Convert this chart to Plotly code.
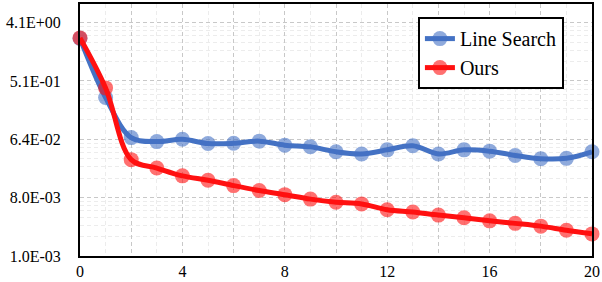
import plotly.graph_objects as go

iterations = list(range(21))
line_search = [2.34, 0.284, 0.068, 0.059, 0.064, 0.055, 0.0555, 0.060, 0.052, 0.049,
               0.041, 0.038, 0.044, 0.051, 0.038, 0.044, 0.042, 0.036, 0.032, 0.0325, 0.041]
ours = [2.38, 0.40, 0.031, 0.023, 0.0174, 0.0149, 0.0123, 0.0103, 0.0089, 0.0076,
        0.0068, 0.0064, 0.0052, 0.0048, 0.0043, 0.0039, 0.0035, 0.0032, 0.0029, 0.0025, 0.0022]

y_tick_vals = [0.001, 0.008, 0.064, 0.512, 4.096]
y_tick_text = ["1.0E-03", "8.0E-03", "6.4E-02", "5.1E-01", "4.1E+00"]
x_tick_vals = list(range(0, 21, 2))
x_tick_text = ["0", "", "4", "", "8", "", "12", "", "16", "", "20"]
y_minor_vals = [m * k for m in y_tick_vals for k in range(2, 8)]

FONT = "Liberation Serif, Times New Roman, serif"

fig = go.Figure()
fig.add_trace(go.Scatter(
    x=iterations, y=line_search, name="Line Search", mode="lines+markers",
    line=dict(color="#4472C4", width=5, shape="spline", smoothing=1),
    marker=dict(color="#4472C4", size=15, opacity=0.6, line=dict(width=0)),
    cliponaxis=False,
))
fig.add_trace(go.Scatter(
    x=iterations, y=ours, name="Ours", mode="lines+markers",
    line=dict(color="#FF1010", width=5, shape="spline", smoothing=1),
    marker=dict(color="#FF1010", size=15, opacity=0.6, line=dict(width=0)),
    cliponaxis=False,
))

fig.update_layout(
    width=602, height=282,
    margin=dict(l=80, r=10, t=2, b=23),
    paper_bgcolor="white", plot_bgcolor="white",
    font=dict(family=FONT, size=16, color="black"),
    showlegend=True,
    legend=dict(
        x=0.66, y=0.948, xanchor="left", yanchor="top",
        bgcolor="white", bordercolor="black", borderwidth=2,
        font=dict(family=FONT, size=20, color="black"),
        itemwidth=30, tracegroupgap=0,
    ),
)
fig.update_xaxes(
    range=[0, 20], tickmode="array", tickvals=x_tick_vals, ticktext=x_tick_text,
    showgrid=True, gridcolor="#C8C8C8", griddash="4px,3px", gridwidth=1,
    minor=dict(tickmode="linear", tick0=0, dtick=1, showgrid=True,
               gridcolor="#ECECEC", gridwidth=1),
    showline=True, linecolor="black", linewidth=2, mirror=True,
    ticks="", ticklabelstandoff=0, zeroline=False,
    tickfont=dict(family=FONT, size=16, color="black"),
)
fig.update_yaxes(
    type="log", range=[-3, 0.901], tickmode="array",
    tickvals=y_tick_vals, ticktext=y_tick_text,
    showgrid=True, gridcolor="#C8C8C8", griddash="4px,3px", gridwidth=1,
    minor=dict(tickmode="array", tickvals=y_minor_vals, showgrid=True,
               gridcolor="#ECECEC", gridwidth=1),
    showline=True, linecolor="black", linewidth=2, mirror=True,
    ticks="", ticklabelstandoff=14, zeroline=False,
    tickfont=dict(family=FONT, size=16, color="black"),
)

fig.write_html(
    "out.html",
    config={"displayModeBar": False},
    post_script="document.body.style.margin='0';document.body.style.padding='0';"
                "document.body.style.overflow='hidden';",
)
